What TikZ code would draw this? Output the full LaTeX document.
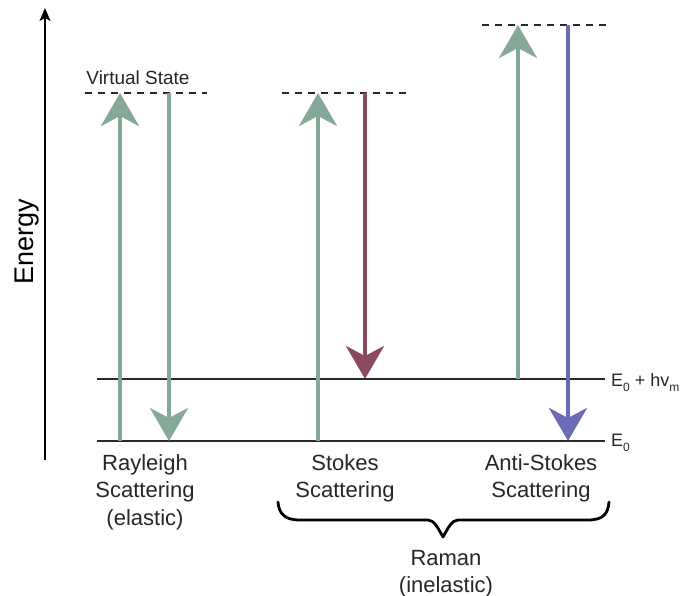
\documentclass[tikz,border=0pt]{standalone}
\usepackage{fontspec}
\setmainfont{Liberation Sans}
\usetikzlibrary{arrows.meta}
\definecolor{excite}{RGB}{134,168,152}
\definecolor{stokesc}{RGB}{139,74,98}
\definecolor{antistokesc}{RGB}{108,108,182}
\definecolor{levelc}{RGB}{40,40,40}
\newcommand{\lowidx}[1]{\raisebox{-5pt}{\fontsize{12}{12}\selectfont #1}}
\tikzset{
  level/.style={draw=levelc, line width=1.3pt},
  virtual/.style={draw=levelc, line width=1.3pt, dash pattern=on 7pt off 6pt},
  transition/.style={line width=4.5pt, -{Stealth[length=33pt,width=38pt,inset=10pt]}},
  caption/.style={font=\fontsize{22}{27.5}\selectfont, align=center, inner sep=0pt, text=black!85},
  levellabel/.style={font=\fontsize{18}{20}\selectfont, inner sep=0pt, anchor=base west, text=black!85},
}
\begin{document}
\begin{tikzpicture}[x=1pt,y=-1pt]
\useasboundingbox (0,0) rectangle (686,596);

% energy axis
\coordinate (axisbot) at (45,460);
\coordinate (axistop) at (45,8);
\draw[line width=1.3pt, -{Stealth[length=13pt,width=11pt,inset=3pt]}] (axisbot) -- (axistop);
\node[rotate=90, anchor=base, inner sep=0pt, font=\fontsize{27}{30}\selectfont] (energy) at (33,242) {Energy};

% energy levels
\coordinate (g0) at (97,441);
\coordinate (g1) at (605,441);
\coordinate (v0) at (97,379);
\coordinate (v1) at (605,379);
\draw[level] (g0) -- (g1);
\draw[level] (v0) -- (v1);
\node[levellabel] (lblvib) at (611,386) {E\lowidx{0} + hv\lowidx{m}};
\node[levellabel] (lblground) at (611,446) {E\lowidx{0}};

% virtual states
\coordinate (va0) at (85,93);
\coordinate (va1) at (207,93);
\coordinate (vb0) at (282,93);
\coordinate (vb1) at (408,93);
\coordinate (vc0) at (482,25);
\coordinate (vc1) at (608,25);
\draw[virtual] (va0) -- (va1);
\draw[virtual] (vb0) -- (vb1);
\draw[virtual] (vc0) -- (vc1);
\node[anchor=base, inner sep=0pt, font=\fontsize{19}{22}\selectfont, text=black!85] (vslabel) at (138,85) {Virtual State};

% Rayleigh
\coordinate (r1a) at (120,441); \coordinate (r1b) at (120,93);
\coordinate (r2a) at (169,93);  \coordinate (r2b) at (169,441);
\draw[transition, excite] (r1a) -- (r1b);
\draw[transition, excite] (r2a) -- (r2b);

% Stokes
\coordinate (s1a) at (318,441); \coordinate (s1b) at (318,93);
\coordinate (s2a) at (365,93);  \coordinate (s2b) at (365,379);
\draw[transition, excite] (s1a) -- (s1b);
\draw[transition, stokesc] (s2a) -- (s2b);

% anti-Stokes
\coordinate (a1a) at (518,379); \coordinate (a1b) at (518,25);
\coordinate (a2a) at (568,25);  \coordinate (a2b) at (568,441);
\draw[transition, excite] (a1a) -- (a1b);
\draw[transition, antistokesc] (a2a) -- (a2b);

% captions
\node[caption, anchor=north] (rayleigh) at (145,454) {Rayleigh\\Scattering\\(elastic)};
\node[caption, anchor=north] (stokes) at (345,454) {Stokes\\Scattering};
\node[caption, anchor=north] (antistokes) at (541,454) {Anti-Stokes\\Scattering};

% brace grouping the Raman lines
\coordinate (bl) at (278,502);
\coordinate (br) at (609,502);
\coordinate (btip) at (443,537);
\draw[line width=2.8pt, line join=round, line cap=round]
  (bl) .. controls (279,514) and (285,520) .. (300,520)
  -- (428,520) .. controls (434,520) and (438,528) .. (btip)
  .. controls (448,528) and (452,520) .. (458,520)
  -- (588,520) .. controls (603,520) and (608,514) .. (br);
\node[caption, anchor=north] (raman) at (446,550) {Raman\\(inelastic)};
\end{tikzpicture}
\end{document}
